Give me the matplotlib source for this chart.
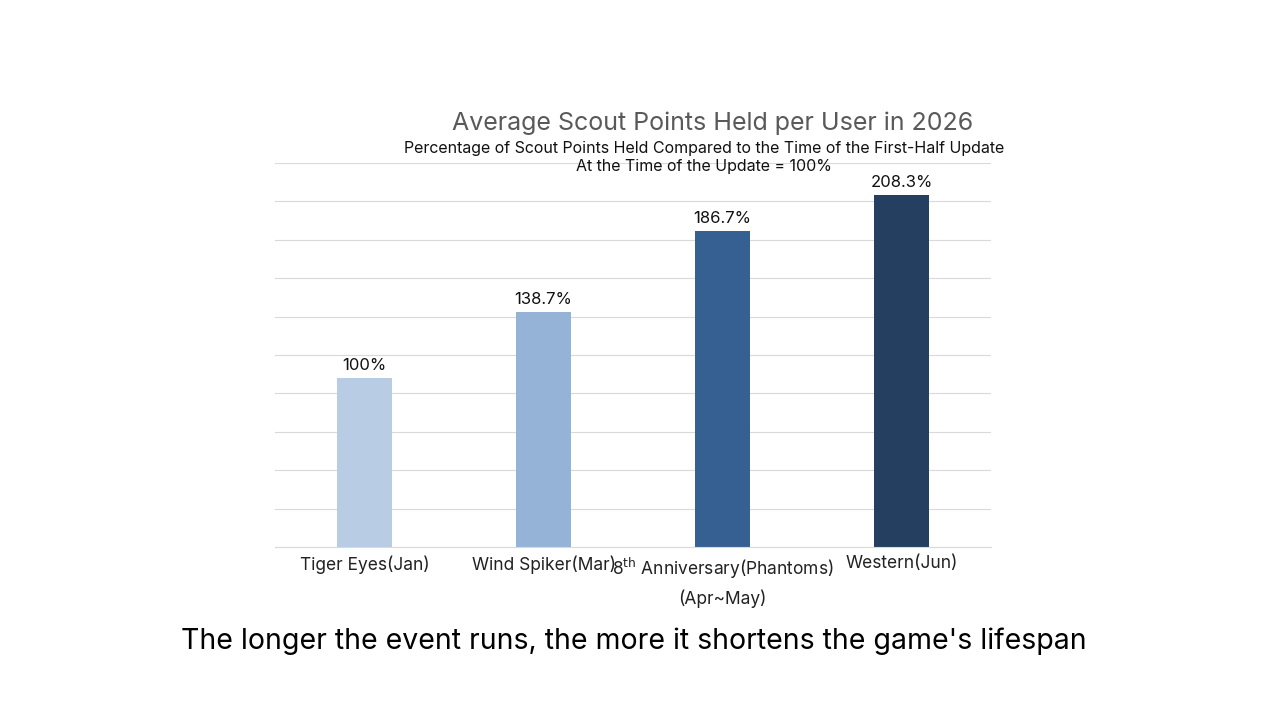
import matplotlib
matplotlib.use("Agg")
import matplotlib.pyplot as plt
import numpy as np

plt.rcParams['font.family'] = ['Inter', 'DejaVu Sans']

categories = ["Tiger Eyes(Jan)", "Wind Spiker(Mar)", "8$^{\\mathrm{th}}$ Anniversary(Phantoms)\n(Apr~May)", "Western(Jun)"]
values = [100, 138.7, 186.7, 208.3]
labels = ["100%", "138.7%", "186.7%", "208.3%"]
colors = ["#b8cce4", "#95b3d7", "#376092", "#243f60"]

fig = plt.figure(figsize=(12.8, 7.2), dpi=100)
ax = fig.add_axes([275/1280, 1-547/720, 716/1280, 384/720])
x = np.arange(len(values))
ax.bar(x, values, width=0.31, color=colors, zorder=2)
for xi, v, l in zip(x, values, labels):
    ax.text(xi, v + 3, l, ha='center', va='bottom', fontsize=12, color='#111111')
ymax = 227
ax.set_ylim(0, ymax)
ax.set_xlim(-0.5, 3.5)
ax.set_yticks(np.linspace(0, ymax, 11))
ax.yaxis.grid(True, color='#d9d9d9', linewidth=0.8, zorder=0)
ax.tick_params(axis='y', left=False, labelleft=False)
ax.tick_params(axis='x', length=0, pad=6)
ax.set_xticks(x)
ax.set_xticklabels(categories, fontsize=12.5, color='#222222', linespacing=1.6)
for s in ['top', 'right', 'left']:
    ax.spines[s].set_visible(False)
ax.spines['bottom'].set_color('#d9d9d9')

fig.text(713/1280, 1-123/720, "Average Scout Points Held per User in 2026", ha='center', va='center', fontsize=18, color='#595959')
fig.text(704/1280, 1-148/720, "Percentage of Scout Points Held Compared to the Time of the First-Half Update", ha='center', va='center', fontsize=11.5, color='#111111')
fig.text(704/1280, 1-167/720, "At the Time of the Update = 100%", ha='center', va='center', fontsize=11.5, color='#111111')
fig.text(634/1280, 1-641/720, "The longer the event runs, the more it shortens the game's lifespan", ha='center', va='center', fontsize=20.5, color='#000000')

fig.savefig("out.png", dpi=100)
